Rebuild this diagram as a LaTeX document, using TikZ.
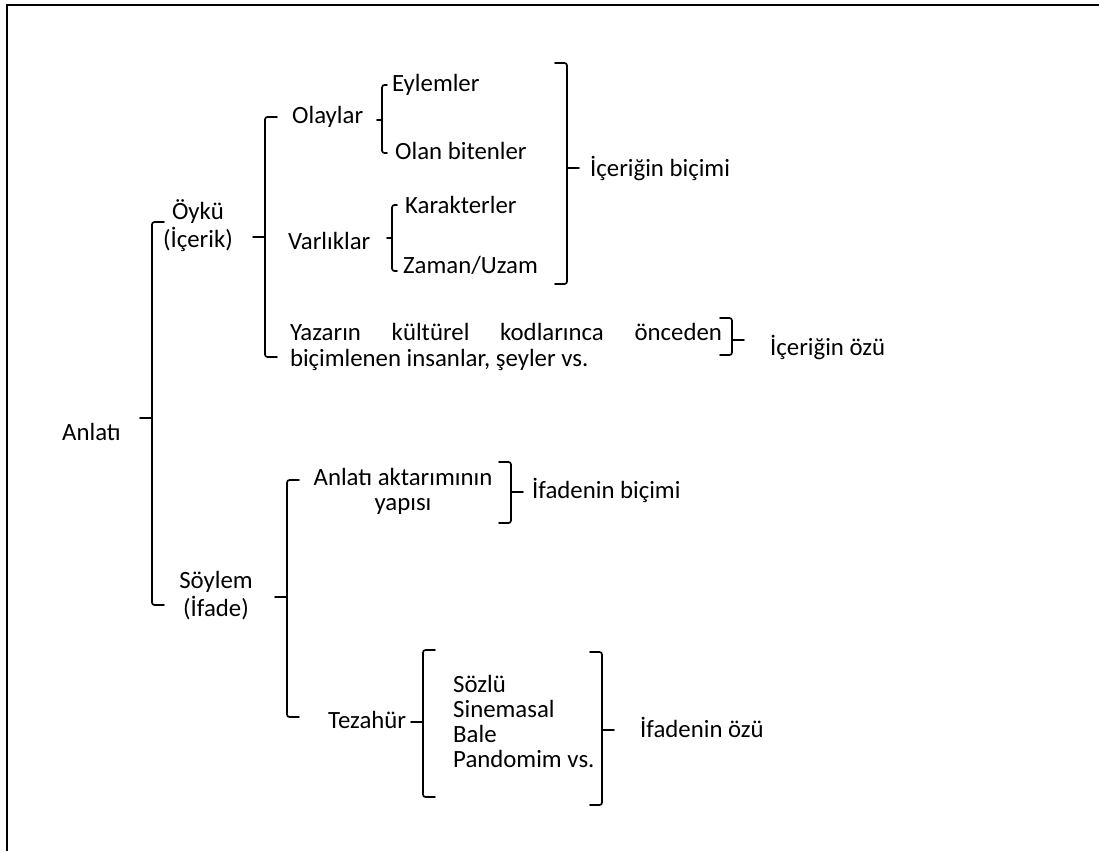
\documentclass[tikz,border=0pt]{standalone}
\usepackage{fontspec}
\setmainfont{Carlito}

% Opening bracket "[" with a tick on its left side: name, x, top, bottom, middle, tick length
\newcommand\bracketL[6]{%
  \coordinate (#1-t) at (#2,#3);
  \coordinate (#1-b) at (#2,#4);
  \coordinate (#1-m) at (#2,#5);
  \draw[brk] (#1-t) ++(#6,0) -- (#1-t) -- (#1-b) -- ++(#6,0);
  \draw[brk] (#1-m) -- ++(-#6,0);}
% Closing bracket "]" with a tick on its right side
\newcommand\bracketR[6]{%
  \coordinate (#1-t) at (#2,#3);
  \coordinate (#1-b) at (#2,#4);
  \coordinate (#1-m) at (#2,#5);
  \draw[brk] (#1-t) ++(-#6,0) -- (#1-t) -- (#1-b) -- ++(-#6,0);
  \draw[brk] (#1-m) -- ++(#6,0);}

\begin{document}
\begin{tikzpicture}[x=1pt,y=-1pt,
  lbl/.style={inner sep=0pt, font=\fontsize{24.8}{25}\selectfont, anchor=base west},
  two/.style={inner sep=0pt, font=\fontsize{24.8}{28}\selectfont, align=center, anchor=center},
  multi/.style={inner sep=0pt, font=\fontsize{24.8}{25}\selectfont},
  brk/.style={line width=1.7pt, rounded corners=2.5pt, line cap=round},
  frame/.style={line width=2.6pt}]
\useasboundingbox (0,0) rectangle (1099,851);

% frame (top and left edges)
\draw[frame] (7,851) -- (7,5) -- (1099,5);

% labels
\node[lbl] (anlati) at (62,440) {Anlatı};
\node[two] (oyku) at (198,226) {Öykü\\(İçerik)};
\node[lbl] (olaylar) at (292,123) {Olaylar};
\node[lbl] (eylem) at (392,91) {Eylemler};
\node[lbl] (olan) at (395,159) {Olan bitenler};
\node[lbl] (varlik) at (288,249) {Varlıklar};
\node[lbl] (karakter) at (405,213) {Karakterler};
\node[lbl] (zaman) at (403,273) {Zaman/Uzam};
\node[lbl] (icbicim) at (590,176) {İçeriğin biçimi};
\node[multi, font=\fontsize{24.8}{25.5}\selectfont, text width=432pt, align=justify, anchor=center] (yazar) at (506,347)
  {Yazarın kültürel kodlarınca önceden\linebreak biçimlenen insanlar, şeyler vs.};
\node[lbl] (icoz) at (770,355) {İçeriğin özü};
\node[two] (soylem) at (216,596) {Söylem\\(İfade)};
\node[multi, align=center, anchor=center] (aktarim) at (403,491) {Anlatı aktarımının\\yapısı};
\node[lbl] (ifbicim) at (532,498) {İfadenin biçimi};
\node[lbl] (tezahur) at (328,728) {Tezahür};
\node[multi, align=left, anchor=west] (liste) at (453,721) {Sözlü\\Sinemasal\\Bale\\Pandomim vs.};
\node[lbl] (ifoz) at (640,737) {İfadenin özü};

% brackets
\bracketL{bAnlati}{152}{222}{605}{418}{12}
\bracketL{bOyku}{265}{117}{357}{237}{12}
\bracketL{bOlay}{382}{85}{153}{120}{5}
\bracketL{bVarlik}{392}{205}{271}{238}{5}
\bracketR{bIcBicim}{567}{63}{284}{168}{12}
\bracketR{bIcOz}{732}{318}{355}{340}{12}
\bracketL{bSoylem}{287}{480}{717}{597}{12}
\bracketR{bIfBicim}{511}{462}{523}{492}{12}
\bracketL{bTezahur}{423}{650}{797}{722}{12}
\bracketR{bIfOz}{602}{652}{805}{730}{12}
\end{tikzpicture}
\end{document}
